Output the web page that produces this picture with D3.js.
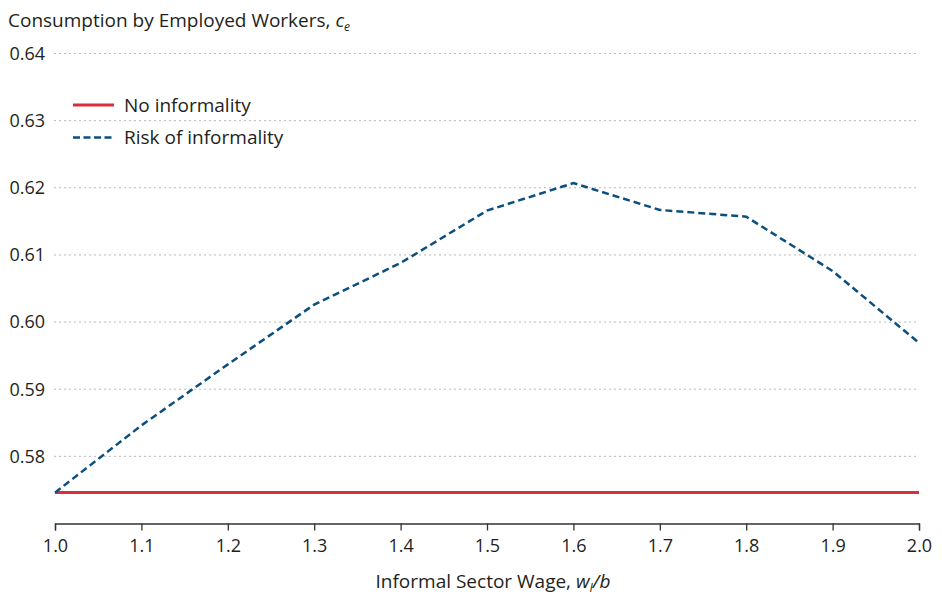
<!DOCTYPE html>
<html>
<head>
<meta charset="utf-8">
<script src="https://cdn.jsdelivr.net/npm/d3@7"></script>
<style>
  body { margin: 0; background: #fff; }
  svg { display: block; font-family: "Open Sans", "Lato", sans-serif; }
</style>
</head>
<body>
<svg id="chart" width="942" height="601"></svg>
<script>
const xValues = [1.0, 1.1, 1.2, 1.3, 1.4, 1.5, 1.6, 1.7, 1.8, 1.9, 2.0];
const noInformality = [0.5746, 0.5746, 0.5746, 0.5746, 0.5746, 0.5746, 0.5746, 0.5746, 0.5746, 0.5746, 0.5746];
const riskOfInformality = [0.5746, 0.5846, 0.5937, 0.6026, 0.6088, 0.6166, 0.6207, 0.6167, 0.6157, 0.6076, 0.5969];
const yTicks = [0.58, 0.59, 0.60, 0.61, 0.62, 0.63, 0.64];
const xTicks = [1.0, 1.1, 1.2, 1.3, 1.4, 1.5, 1.6, 1.7, 1.8, 1.9, 2.0];
const seriesNames = ["No informality", "Risk of informality"];

const svg = d3.select("#chart");
const x = d3.scaleLinear().domain([1.0, 2.0]).range([55, 919]);
const y = d3.scaleLinear().domain([0.57, 0.64]).range([523.5, 53.5]);
const textColor = "#231f20";
const red = "#d7303c";
const blue = "#0b4f7d";

// gridlines
svg.append("g").selectAll("line").data(yTicks).join("line")
  .attr("x1", 54).attr("x2", 919)
  .attr("y1", d => y(d)).attr("y2", d => y(d))
  .attr("stroke", "#b9b9b9").attr("stroke-width", 1)
  .attr("stroke-dasharray", "2,3");

// y labels
svg.append("g").selectAll("text").data(yTicks).join("text")
  .attr("x", 45).attr("y", d => y(d)).attr("dy", "0.35em")
  .attr("text-anchor", "end").attr("font-size", 18).attr("fill", textColor)
  .text(d => d3.format(".2f")(d));

// x axis
const xAxis = d3.axisBottom(x).tickValues(xTicks).tickFormat(d3.format(".1f")).tickSize(7).tickPadding(9);
const gx = svg.append("g").attr("transform", `translate(0,${y(0.57)})`).call(xAxis);
gx.select(".domain").attr("stroke", "#333").attr("stroke-width", 1.3);
gx.selectAll(".tick line").attr("stroke", "#333").attr("stroke-width", 1.3);
gx.selectAll(".tick text").attr("font-size", 18).attr("fill", textColor)
  .attr("font-family", "'Open Sans', sans-serif");

// lines
const data0 = xValues.map((v, i) => [v, noInformality[i]]);
const data1 = xValues.map((v, i) => [v, riskOfInformality[i]]);
const line = d3.line().x(d => x(d[0])).y(d => y(d[1]));
svg.append("path").datum(data0).attr("d", line)
  .attr("fill", "none").attr("stroke", red).attr("stroke-width", 3);
svg.append("path").datum(data1).attr("d", line)
  .attr("fill", "none").attr("stroke", blue).attr("stroke-width", 2.5)
  .attr("stroke-dasharray", "7,4");

// legend
const legend = svg.append("g");
const legItems = [
  { name: seriesNames[0], color: red, dash: null, w: 3, yy: 105 },
  { name: seriesNames[1], color: blue, dash: "7,3.5", w: 2.5, yy: 137.5 }
];
legItems.forEach(it => {
  legend.append("line").attr("x1", 73).attr("x2", 114)
    .attr("y1", it.yy).attr("y2", it.yy)
    .attr("stroke", it.color).attr("stroke-width", it.w)
    .attr("stroke-dasharray", it.dash);
  legend.append("text").attr("x", 124).attr("y", it.yy).attr("dy", "0.35em")
    .attr("font-size", 19).attr("fill", textColor).text(it.name);
});

// title
const title = svg.append("text").attr("x", 8).attr("y", 27)
  .attr("font-size", 19).attr("fill", textColor);
title.append("tspan").text("Consumption by Employed Workers, ");
title.append("tspan").attr("font-style", "italic").text("c");
title.append("tspan").attr("font-style", "italic").attr("font-size", 12).attr("dy", 4).text("e");

// x label
const xl = svg.append("text").attr("x", 493).attr("y", 588)
  .attr("text-anchor", "middle").attr("font-size", 19).attr("fill", textColor);
xl.append("tspan").text("Informal Sector Wage, ");
xl.append("tspan").attr("font-style", "italic").text("w");
xl.append("tspan").attr("font-style", "italic").attr("font-size", 12).attr("dy", 4).text("I");
xl.append("tspan").attr("font-style", "italic").attr("dy", -4).text("/b");
</script>
</body>
</html>
